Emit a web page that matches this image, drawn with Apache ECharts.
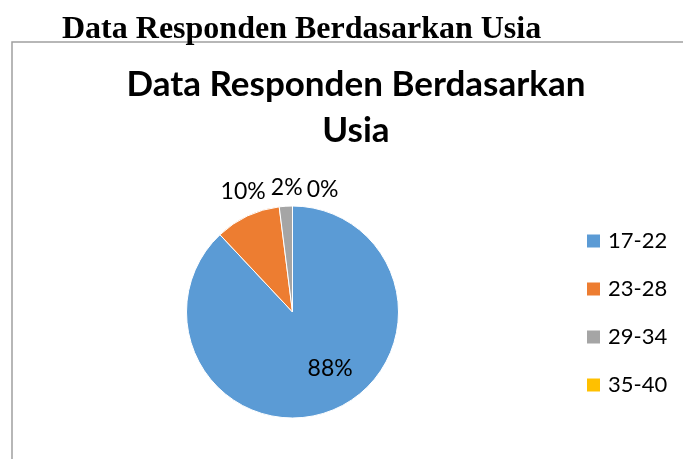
<!DOCTYPE html>
<html>
<head>
  <meta charset="UTF-8">
  <style>
    html, body { margin: 0; padding: 0; background: #fff; }
  </style>
  <script src="https://cdn.jsdelivr.net/npm/echarts@6/dist/echarts.min.js"></script>
</head>
<body>
  <div id="chart" style="width: 683px; height: 459px;"></div>
  <script>
    const pageHeading = 'Data Responden Berdasarkan Usia'
    const chartTitle = 'Data Responden Berdasarkan\nUsia'
    const ageGroups = ['17-22', '23-28', '29-34', '35-40']
    const percents = [88, 10, 2, 0]
    const sliceColors = ['#5B9BD5', '#ED7D31', '#A5A5A5', '#FFC000']

    // small nudges so the labels land where excel put them
    const labelNudge = [[17, 5], [25, -21], [22, -15], [51, -12]]

    const myChart = echarts.init(document.getElementById('chart'))

    const options = {
      color: sliceColors,
      title: [
        {
          text: pageHeading,
          left: 57,
          top: 9,
          textStyle: { fontFamily: 'Liberation Serif', fontWeight: 'bold', fontSize: 32, color: '#000' }
        },
        {
          text: chartTitle,
          left: 351,
          top: 57,
          textAlign: 'center',
          textStyle: { fontFamily: 'Lato', fontWeight: 'bold', fontSize: 35, lineHeight: 46, color: '#000' }
        }
      ],
      graphic: [
        {
          type: 'rect',
          shape: { x: 12, y: 42, width: 700, height: 440 },
          style: { fill: null, stroke: '#a0a0a0', lineWidth: 1.5 },
          silent: true
        }
      ],
      legend: {
        orient: 'vertical',
        left: 580,
        top: 225,
        icon: 'rect',
        itemWidth: 15,
        itemHeight: 15,
        itemGap: 26,
        data: ageGroups,
        textStyle: { fontFamily: 'Lato', fontSize: 22, color: '#000', padding: [0, 0, 0, 2] }
      },
      series: [
        {
          type: 'pie',
          center: [292.5, 312],
          radius: 106,
          startAngle: 90,
          clockwise: true,
          avoidLabelOverlap: false,
          minShowLabelAngle: 0,
          itemStyle: { borderColor: '#fff', borderWidth: 1 },
          label: {
            position: 'outside',
            formatter: p => p.value + '%',
            fontFamily: 'Lato',
            fontSize: 23,
            color: '#000'
          },
          labelLine: { show: false, length: 4, length2: 0 },
          emphasis: { disabled: true },
          labelLayout: function (params) {
            const n = labelNudge[params.dataIndex] || [0, 0]
            return { dx: n[0], dy: n[1] }
          },
          data: ageGroups.map((g, i) => ({
            name: g,
            value: percents[i],
            label: i === 0 ? { position: 'inside' } : {}
          }))
        }
      ]
    }

    myChart.setOption(options)
  </script>
</body>
</html>
